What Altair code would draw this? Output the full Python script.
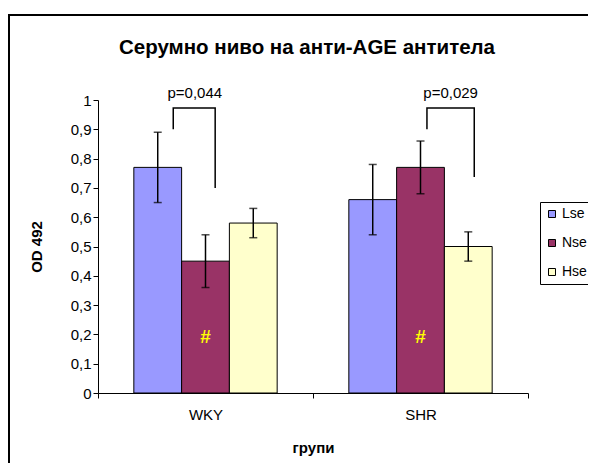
import altair as alt
import pandas as pd

# ---- data ----
groups = ["WKY", "SHR"]
series = ["Lse", "Nse", "Hse"]
colors = ["#9999FF", "#993366", "#FFFFCC"]
wky_means = [0.77, 0.45, 0.58]
shr_means = [0.66, 0.77, 0.50]
wky_err = [0.12, 0.09, 0.05]
shr_err = [0.12, 0.09, 0.05]

# significance brackets: group, position inside the group (fraction of group band), y value
br_id = ["a", "a", "a", "a", "b", "b", "b", "b"]
br_group = ["WKY", "WKY", "WKY", "WKY", "SHR", "SHR", "SHR", "SHR"]
br_pos = [0.35, 0.35, 0.545, 0.545, 0.53, 0.53, 0.75, 0.75]
br_y = [0.90, 0.973, 0.973, 0.70, 0.90, 0.973, 0.973, 0.737]
br_order = [0, 1, 2, 3, 0, 1, 2, 3]

p_group = ["WKY", "SHR"]
p_pos = [0.45, 0.64]
p_text = ["p=0,044", "p=0,029"]
p_y = [1.0, 1.0]

hash_group = ["WKY", "SHR"]
hash_series = ["Nse", "Nse"]
hash_y = [0.19, 0.19]

y_ticks = [0, 0.1, 0.2, 0.3, 0.4, 0.5, 0.6, 0.7, 0.8, 0.9, 1.0]

FONT = "Liberation Sans"

rows = []
for g, ms, es in [("WKY", wky_means, wky_err), ("SHR", shr_means, shr_err)]:
    for s, m, e in zip(series, ms, es):
        rows.append({"group": g, "series": s, "value": m, "lo": m - e, "hi": m + e})
df = pd.DataFrame(rows)

br_df = pd.DataFrame({"id": br_id, "group": br_group, "pos": br_pos, "y": br_y, "o": br_order})
p_df = pd.DataFrame({"group": p_group, "pos": p_pos, "text": p_text, "y": p_y})
hash_df = pd.DataFrame({"group": hash_group, "series": hash_series, "y": hash_y})

x_enc = alt.X(
    "group:N", sort=groups,
    scale=alt.Scale(paddingInner=0, paddingOuter=0),
    axis=alt.Axis(title="групи", labelAngle=0, tickBand="extent", tickSize=5,
                  labelPadding=9, titlePadding=18, domainColor="black", tickColor="black",
                  labelFontSize=15, titleFontSize=15, titleFontWeight="bold",
                  labelColor="black", titleColor="black", labelFont=FONT, titleFont=FONT),
)
y_scale = alt.Scale(domain=[0, 1], nice=False)
y_axis = alt.Axis(title="OD 492", values=y_ticks, grid=False, tickSize=5,
                  labelOverlap=False,
                  labelExpr="replace(format(datum.value, '~g'), '.', ',')",
                  domainColor="black", tickColor="black", labelColor="black",
                  titleColor="black", labelFontSize=15, titleFontSize=15,
                  titleFontWeight="bold", titlePadding=26, labelFont=FONT,
                  titleFont=FONT)


def y_enc(field):
    return alt.Y(field, scale=y_scale, axis=y_axis)


xo_scale = alt.Scale(paddingInner=0, paddingOuter=0.75)
xo = alt.XOffset("series:N", sort=series, scale=xo_scale)
xo_q = alt.XOffset("pos:Q", scale=alt.Scale(domain=[0, 1], nice=False, zero=True))

base = alt.Chart(df)

bars = base.mark_bar(stroke="black", strokeWidth=1).encode(
    x=x_enc,
    xOffset=xo,
    y=y_enc("value:Q"),
    fill=alt.Fill("series:N", sort=series,
                  scale=alt.Scale(domain=series, range=colors),
                  legend=alt.Legend(title=None, orient="none", legendX=442, legendY=102,
                                    symbolType="square", symbolSize=49,
                                    symbolStrokeColor="black", symbolStrokeWidth=1,
                                    labelFontSize=14, labelFont=FONT, labelColor="black",
                                    labelOffset=3, rowPadding=15, padding=5,
                                    strokeColor="black", fillColor="white")),
)

err_rule = base.mark_rule(color="black", strokeWidth=1.5).encode(
    x=x_enc, xOffset=xo, y=y_enc("lo:Q"), y2="hi:Q"
)
cap_lo = base.mark_tick(color="black", thickness=1.5, size=8, orient="horizontal").encode(
    x=x_enc, xOffset=xo, y=y_enc("lo:Q")
)
cap_hi = base.mark_tick(color="black", thickness=1.5, size=8, orient="horizontal").encode(
    x=x_enc, xOffset=xo, y=y_enc("hi:Q")
)

brackets = alt.Chart(br_df).mark_line(color="black", strokeWidth=1.5).encode(
    x=x_enc, xOffset=xo_q, y=y_enc("y:Q"), detail="id:N", order="o:Q"
)

p_labels = alt.Chart(p_df).mark_text(fontSize=15, font=FONT, color="black",
                                     baseline="bottom", dy=1).encode(
    x=x_enc, xOffset=xo_q, y=y_enc("y:Q"), text="text:N"
)

hashes = alt.Chart(hash_df).mark_text(text="#", fontSize=19, fontWeight="bold", font=FONT,
                                      color="#FFFF00").encode(
    x=x_enc, xOffset=xo, y=y_enc("y:Q")
)

frame = alt.Chart(pd.DataFrame({"f": [0]})).mark_rect(
    filled=False, stroke="black", strokeWidth=2
).encode(x=alt.value(-89), x2=alt.value(700), y=alt.value(-85), y2=alt.value(600))

chart = alt.layer(frame, bars, err_rule, cap_lo, cap_hi, hashes, brackets, p_labels).resolve_scale(
    xOffset="independent"
).properties(
    width=430, height=293,
    title=alt.TitleParams("Серумно ниво на анти-AGE антитела", fontSize=20.5, fontWeight="bold",
                          font=FONT, color="black", anchor="middle", frame="group",
                          offset=-44, dx=-6),
    autosize=alt.AutoSizeParams(type="none"),
    padding={"left": 90, "top": 92, "right": 60, "bottom": 70},
).configure_view(stroke=None).configure_axis(grid=False)

chart.save("out.html", embed_options={"renderer": "svg", "actions": False})
